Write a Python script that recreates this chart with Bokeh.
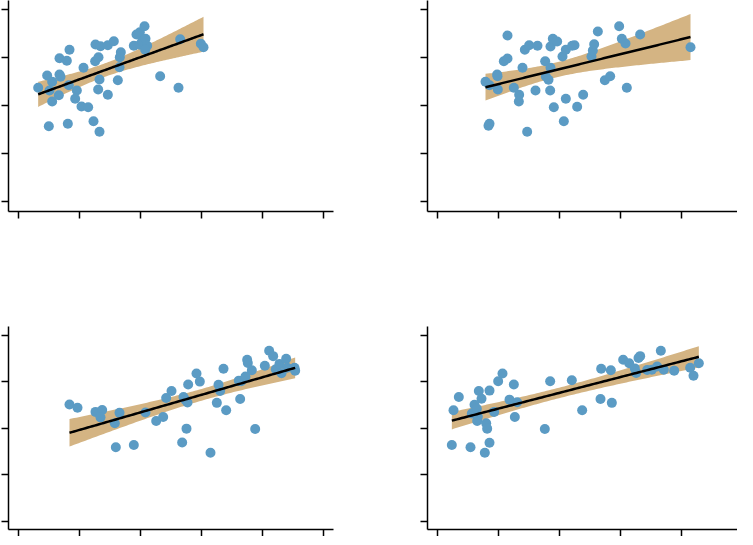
import numpy as np
from bokeh.plotting import figure
from bokeh.layouts import gridplot
from bokeh.models import Range1d, FixedTicker
from bokeh.embed import file_html
from bokeh.resources import INLINE

x_ticks = [54, 237, 420, 603, 786, 969]
y_ticks = [-27, -172, -316, -460, -604]

p1_x = [113,140,147,155,155,145,175,177,180,177,199,207,205,202,229,224,243,249,263,279,284,285,293,294,297,297,300,322,322,340,352,357,358,361,400,408,418,418,425,432,435,440,434,479,534,539,601,609]
p1_y = [-262,-225,-270,-244,-303,-377,-284,-222,-229,-173,-181,-148,-254,-370,-270,-295,-318,-202,-320,-362,-182,-132,-267,-170,-237,-394,-137,-134,-283,-122,-239,-200,-170,-155,-136,-102,-95,-133,-122,-77,-115,-136,-148,-227,-262,-116,-130,-140]
p2_x = [198,210,233,234,235,207,210,253,264,264,283,299,298,309,316,329,323,348,354,377,379,387,393,393,392,400,403,413,429,433,439,439,458,465,473,491,516,520,524,535,556,572,599,607,618,622,662,813]
p2_y = [-244,-254,-222,-227,-267,-376,-370,-182,-174,-105,-262,-283,-303,-202,-148,-134,-394,-270,-136,-182,-228,-238,-202,-138,-270,-115,-320,-123,-168,-362,-148,-295,-136,-134,-319,-283,-168,-150,-131,-93,-239,-227,-77,-115,-129,-262,-102,-140]
p3_x = [207,231,285,305,300,343,357,346,400,435,467,488,497,513,545,549,555,558,561,563,588,598,630,649,654,659,669,677,715,719,722,735,740,742,754,764,793,806,818,826,837,843,857,860,882,884]
p3_y = [-242,-252,-265,-259,-282,-300,-268,-375,-368,-267,-293,-281,-222,-200,-360,-219,-228,-317,-236,-180,-146,-171,-392,-237,-181,-200,-131,-260,-168,-225,-170,-155,-103,-113,-136,-318,-122,-75,-92,-133,-116,-145,-100,-128,-128,-137]
p4_x = [97,102,118,153,157,165,172,175,173,178,186,196,200,203,210,210,224,236,249,270,283,286,293,376,392,457,488,543,545,574,577,611,629,646,650,657,662,683,697,713,724,733,764,812,822,838]
p4_y = [-368,-260,-219,-375,-270,-243,-255,-280,-293,-200,-224,-392,-300,-317,-361,-199,-265,-170,-146,-227,-180,-281,-235,-318,-170,-167,-260,-225,-131,-136,-237,-103,-114,-130,-144,-98,-92,-135,-134,-124,-75,-134,-137,-128,-153,-114]

PT = "#5b9bc4"
BAND = "#d4b483"

def panel(xs, ys, w, h, xr, yr, bl, br, bb):
    p = figure(width=w, height=h, output_backend="svg", toolbar_location=None,
               x_range=Range1d(*xr), y_range=Range1d(*yr),
               min_border_left=bl, min_border_right=br, min_border_top=0, min_border_bottom=bb)
    p.outline_line_color = None
    p.grid.visible = False
    for ax, t in ((p.xaxis, x_ticks), (p.yaxis, y_ticks)):
        ax.ticker = FixedTicker(ticks=t)
        ax.major_label_text_font_size = "0pt"
        ax.major_label_standoff = 0
        ax.minor_tick_line_color = None
        ax.major_tick_in = 0
        ax.major_tick_out = 7
        ax.axis_line_width = 1.5
        ax.major_tick_line_width = 1.5
    x = np.array(xs, float); y = np.array(ys, float)
    n = len(x)
    b, a = np.polyfit(x, y, 1)
    res = y - (a + b * x)
    s = np.sqrt((res ** 2).sum() / (n - 2))
    xm = x.mean(); sxx = ((x - xm) ** 2).sum()
    gx = np.linspace(x.min(), x.max(), 100)
    gy = a + b * gx
    se = s * np.sqrt(1 / n + (gx - xm) ** 2 / sxx)
    p.varea(x=gx, y1=gy - 2.01 * se, y2=gy + 2.01 * se, fill_color=BAND, fill_alpha=1)
    p.scatter(x, y, size=10, color=PT, line_color=None)
    p.line(gx, gy, line_color="black", line_width=2.5)
    return p

f1 = panel(p1_x, p1_y, 419, 326, (24, 999), (-633, 0), 8, 86, 115)
f2 = panel(p2_x, p2_y, 318, 326, (24, 954), (-633, 0), 8, 0, 115)
f3 = panel(p3_x, p3_y, 419, 210, (24, 999), (-630, 0), 8, 86, 0)
f4 = panel(p4_x, p4_y, 318, 210, (24, 954), (-630, 0), 8, 0, 0)

g = gridplot([[f1, f2], [f3, f4]], toolbar_location=None)
open("out.html", "w").write(file_html(g, INLINE))
